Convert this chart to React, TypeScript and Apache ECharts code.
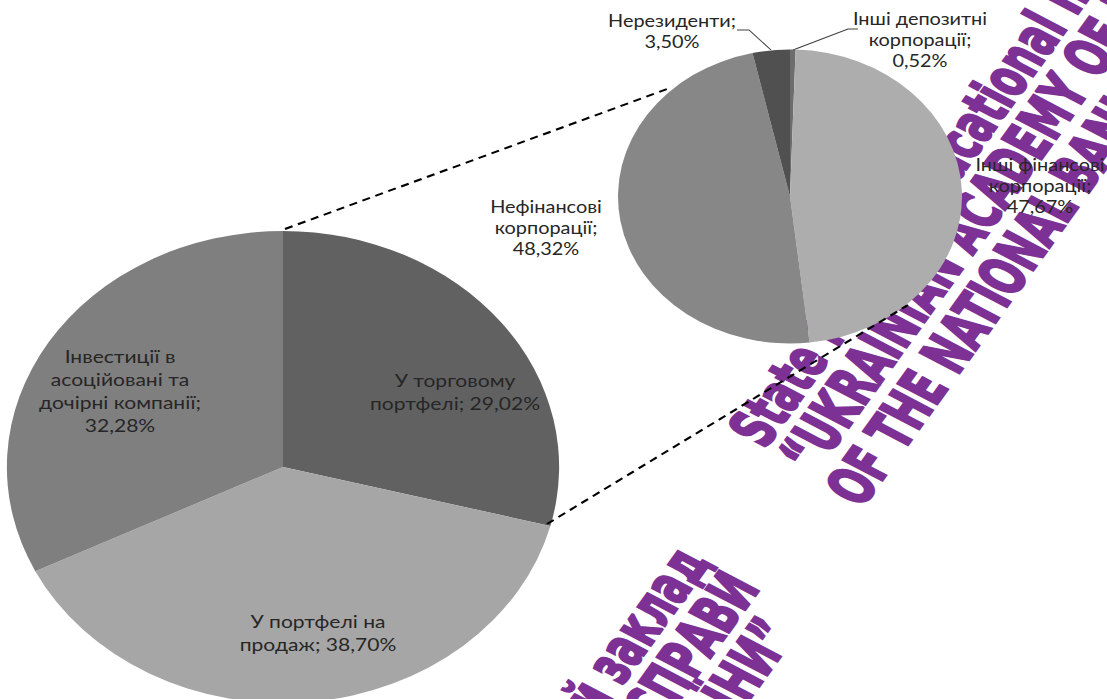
import React, { useEffect, useRef } from "react";
import * as echarts from "echarts";

// horizontal stretch of the whole picture (pies are ellipses in the reference)
const SX = 1.17;
const W = 1107;
const H = 699;

// ---- data ----
const mainNames = [
  "У торговому портфелі",
  "У портфелі на продаж",
  "Інвестиції в асоційовані та дочірні компанії",
];
const mainValues = [29.02, 38.7, 32.28];
const mainLabels = [
  "У торговому\nпортфелі; 29,02%",
  "У портфелі на\nпродаж; 38,70%",
  "Інвестиції в\nасоційовані та\nдочірні компанії;\n32,28%",
];
const mainColors = ["#616161", "#a6a6a6", "#7f7f7f"];

const subNames = [
  "Інші депозитні корпорації",
  "Інші фінансові корпорації",
  "Нефінансові корпорації",
  "Нерезиденти",
];
const subValues = [0.52, 47.67, 48.32, 3.5];
const subLabels = [
  "Інші депозитні\nкорпорації;\n0,52%",
  "Інші фінансові\nкорпорації;\n47,67%",
  "Нефінансові\nкорпорації;\n48,32%",
  "Нерезиденти;\n3,50%",
];
const subColors = ["#6d6d6d", "#adadad", "#878787", "#505050"];

// watermark texts
const wmEnglish = [
  "State Higher Educational Institution",
  "“UKRAINIAN ACADEMY OF BANKING",
  "OF THE NATIONAL BANK OF UKRAINE”",
];
const wmUkrainian = [
  "Державний вищий навчальний заклад",
  "“УНІВЕРСИТЕТ БАНКІВСЬКОЇ СПРАВИ",
  "НАЦІОНАЛЬНОГО БАНКУ УКРАЇНИ”",
];

// ---- layout (image pixel coordinates) ----
const mainCenter = [283, 467];
const mainRadius = 236;
const subCenter = [790, 196.5];
const subRadius = 147;
const mainLabelPos = [
  [455, 392],
  [318, 633],
  [120, 391],
];
const subLabelPos = [
  [920, 40],
  [1040, 186],
  [546, 228],
  [672, 31],
];
const subLabelLines: (number[][] | null)[] = [
  [
    [793, 50],
    [848, 29],
    [858, 29],
  ],
  null,
  null,
  [
    [771, 50],
    [749, 30],
    [737, 30],
  ],
];
const connectors = [
  [285, 229, 670, 88],
  [547, 524, 908, 305],
];
const wmEnglishPos = [
  [746, 440],
  [796, 465],
  [843, 499],
];
const wmUkrainianPos = [
  [692, 552],
  [742, 578],
  [778, 624],
];

const px = (x: number) => x / SX;
const FONT = "Lato, 'Open Sans', 'Liberation Sans', sans-serif";
const WM_ROT = Math.atan2(0.812, 0.584 / SX);
const WM_COLOR = "#7e3194";

export default function App() {
  const ref = useRef<HTMLDivElement>(null);
  useEffect(() => {
    if (!ref.current) return;
    const chart = echarts.init(ref.current, undefined, { renderer: "svg" });

    const wmText = (t: string, p: number[], align: string) => ({
      type: "text",
      x: px(p[0]),
      y: p[1],
      rotation: WM_ROT,
      scaleX: 0.65,
      z: 0,
      silent: true,
      style: {
        text: t,
        fontFamily: "'DejaVu Sans', sans-serif",
        fontWeight: "bold",
        fontSize: 54,
        fill: WM_COLOR,
        stroke: WM_COLOR,
        lineWidth: 2.5,
        align,
        textAlign: align,
        verticalAlign: "middle",
        textVerticalAlign: "middle",
      },
    });

    const graphics: any[] = [];
    wmEnglish.forEach((t, i) => graphics.push(wmText(t, wmEnglishPos[i], "left")));
    wmUkrainian.forEach((t, i) => graphics.push(wmText(t, wmUkrainianPos[i], "right")));
    connectors.forEach((c) =>
      graphics.push({
        type: "line",
        z: 10,
        silent: true,
        shape: { x1: px(c[0]), y1: c[1], x2: px(c[2]), y2: c[3] },
        style: { stroke: "#000", lineWidth: 2, lineDash: [7, 5] },
      })
    );

    chart.setOption({
      animation: false,
      backgroundColor: "#ffffff",
      graphic: graphics,
      series: [
        {
          type: "pie",
          name: "main",
          z: 2,
          center: [px(mainCenter[0]), mainCenter[1]],
          radius: mainRadius,
          startAngle: 90,
          clockwise: true,
          avoidLabelOverlap: false,
          itemStyle: { borderWidth: 0 },
          emphasis: { disabled: true },
          label: {
            show: true,
            position: "inside",
            color: "#262626",
            fontFamily: FONT,
            fontSize: 18,
            lineHeight: 23,
            align: "center",
            formatter: (p: any) => mainLabels[p.dataIndex],
          },
          labelLayout: (p: any) => {
            const pos = mainLabelPos[p.dataIndex];
            return { x: px(pos[0]), y: pos[1], align: "center", verticalAlign: "middle" };
          },
          data: mainNames.map((n, i) => ({
            name: n,
            value: mainValues[i],
            itemStyle: { color: mainColors[i] },
          })),
        },
        {
          type: "pie",
          name: "sub",
          z: 2,
          center: [px(subCenter[0]), subCenter[1]],
          radius: subRadius,
          startAngle: 90,
          clockwise: true,
          avoidLabelOverlap: false,
          itemStyle: { borderWidth: 0 },
          emphasis: { disabled: true },
          label: {
            show: true,
            position: "outside",
            color: "#262626",
            fontFamily: FONT,
            fontSize: 17,
            lineHeight: 21,
            align: "center",
            formatter: (p: any) => subLabels[p.dataIndex],
          },
          labelLine: {
            show: true,
            lineStyle: { color: "#404040", width: 1 },
          },
          labelLayout: (p: any) => {
            const pos = subLabelPos[p.dataIndex];
            const line = subLabelLines[p.dataIndex];
            const res: any = { x: px(pos[0]), y: pos[1], align: "center", verticalAlign: "middle" };
            if (line) res.labelLinePoints = line.map((q) => [px(q[0]), q[1]]);
            return res;
          },
          data: subNames.map((n, i) => ({
            name: n,
            value: subValues[i],
            itemStyle: { color: subColors[i] },
            labelLine: { show: !!subLabelLines[i] },
          })),
        },
      ],
    });
    return () => chart.dispose();
  }, []);

  return (
    <div
      ref={ref}
      style={{
        position: "fixed",
        left: 0,
        top: 0,
        width: Math.ceil(W / SX),
        height: H,
        transform: `scaleX(${SX})`,
        transformOrigin: "0 0",
      }}
    />
  );
}
